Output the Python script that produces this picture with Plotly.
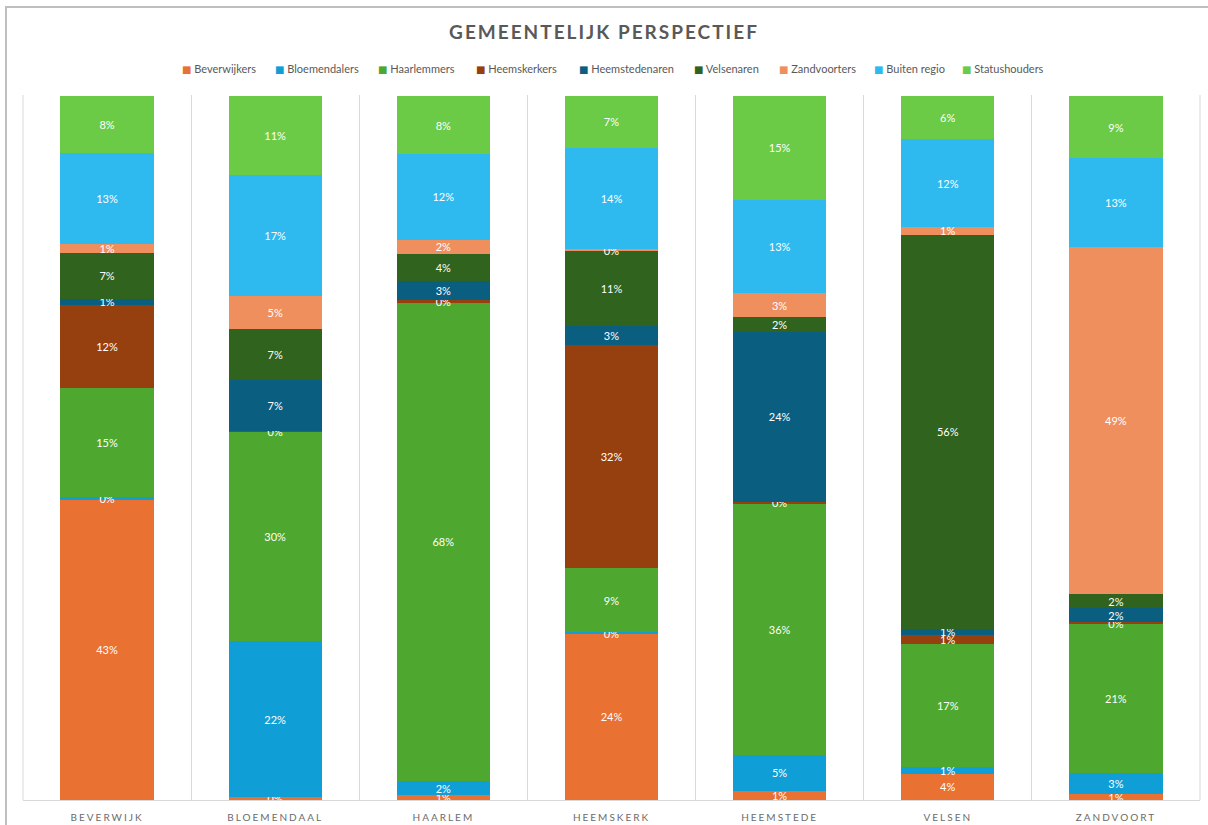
import plotly.graph_objects as go

categories = ["BEVERWIJK", "BLOEMENDAAL", "HAARLEM", "HEEMSKERK", "HEEMSTEDE", "VELSEN", "ZANDVOORT"]

series_names = ["Beverwijkers", "Bloemendalers", "Haarlemmers", "Heemskerkers", "Heemstedenaren",
                "Velsenaren", "Zandvoorters", "Buiten regio", "Statushouders"]

beverwijkers   = [42.6, 0.4, 0.7, 23.6, 1.3, 3.7, 0.8]
bloemendalers  = [0.4, 22.1, 2.0, 0.2, 5.1, 1.0, 3.0]
haarlemmers    = [15.4, 29.7, 67.8, 9.1, 35.6, 17.4, 21.2]
heemskerkers   = [11.8, 0.2, 0.4, 31.6, 0.3, 1.3, 0.2]
heemstedenaren = [0.9, 7.2, 2.7, 2.8, 24.1, 0.9, 2.0]
velsenaren     = [6.5, 7.2, 3.8, 10.6, 2.1, 55.9, 2.0]
zandvoorters   = [1.3, 4.7, 2.1, 0.2, 3.4, 1.1, 49.2]
buiten_regio   = [12.9, 17.2, 12.1, 14.4, 13.2, 12.4, 12.6]
statushouders  = [8.1, 11.2, 8.2, 7.4, 14.8, 6.2, 8.9]

series_values = [beverwijkers, bloemendalers, haarlemmers, heemskerkers, heemstedenaren,
                 velsenaren, zandvoorters, buiten_regio, statushouders]

colors = ["#E97132", "#0F9ED5", "#4EA72E", "#97400F", "#0A5E80",
          "#2F631E", "#EF8F5E", "#2EB9EF", "#6BCB47"]

# legend entry left edges in pixels (layout)
legend_px = [180, 273, 376, 474, 577, 692, 777, 872, 960]

xpos = list(range(len(categories)))
L, R, T, B = 23, 8, 95, 25
PW = 1208 - L - R
PH = 825 - T - B

fig = go.Figure()
for name, vals, col in zip(series_names, series_values, colors):
    fig.add_trace(go.Bar(
        x=xpos, y=vals, name=name, marker=dict(color=col, line=dict(width=0)),
        width=0.555, cliponaxis=False,
        texttemplate="%{y:.0f}%", textposition="inside", insidetextanchor="middle",
        textangle=0, constraintext="none",
        textfont=dict(color="white", size=11, family="Lato, sans-serif"),
        hoverinfo="skip", showlegend=False,
    ))

annotations = []
for name, col, px in zip(series_names, colors, legend_px):
    annotations.append(dict(
        xref="paper", yref="paper", x=(px - L) / PW, y=(800 - 68) / PH,
        xanchor="left", yanchor="middle", showarrow=False,
        text=f"<span style='color:{col};font-family:DejaVu Sans;font-size:10px'>■</span> {name}",
        font=dict(size=11, color="#595959", family="Lato, sans-serif"),
    ))

fig.update_layout(
    barmode="stack",
    width=1208, height=825,
    margin=dict(l=L, r=R, t=T, b=B, autoexpand=False),
    paper_bgcolor="white", plot_bgcolor="white",
    uniformtext=dict(minsize=11, mode="show"),
    showlegend=False,
    title=dict(text="<b>GEMEENTELIJK PERSPECTIEF</b>", x=0.5, xanchor="center", y=0.961, yanchor="middle",
               font=dict(size=19, color="#595959", family="Lato, sans-serif")),
    xaxis=dict(range=[-0.5, 6.5], tickvals=xpos, ticktext=categories, showgrid=False,
               zeroline=False, showline=True, linecolor="#D9D9D9", linewidth=1, ticks="",
               ticklabelstandoff=8, automargin=False,
               tickfont=dict(size=10, color="#6b6b6b", family="Lato, sans-serif"),
               minor=dict(tick0=0.5, dtick=1, showgrid=True, gridcolor="#D9D9D9", gridwidth=1, ticks="")),
    yaxis=dict(range=[0, 100], visible=False, showgrid=False),
    annotations=annotations,
    shapes=[dict(type="rect", xref="paper", yref="paper",
                 x0=(6 - L) / PW, x1=(1212 - L) / PW,
                 y0=(800 - 830) / PH, y1=(800 - 7) / PH,
                 line=dict(color="#BFBFBF", width=2), fillcolor="rgba(0,0,0,0)", layer="below"),
            dict(type="line", xref="paper", yref="paper", x0=0, x1=0, y0=0, y1=1,
                 line=dict(color="#D9D9D9", width=1), layer="below"),
            dict(type="line", xref="paper", yref="paper", x0=1, x1=1, y0=0, y1=1,
                 line=dict(color="#D9D9D9", width=1), layer="below")],
)

post = """
var gd = document.getElementById('{plot_id}');
function ls(){
  document.querySelectorAll('.xtick text').forEach(function(t){t.style.letterSpacing='2px';});
  document.querySelectorAll('.gtitle').forEach(function(t){t.style.letterSpacing='2px';});
}
ls();
if (gd && gd.on) { gd.on('plotly_afterplot', ls); }
"""

fig.write_html("out.html", post_script=post)
